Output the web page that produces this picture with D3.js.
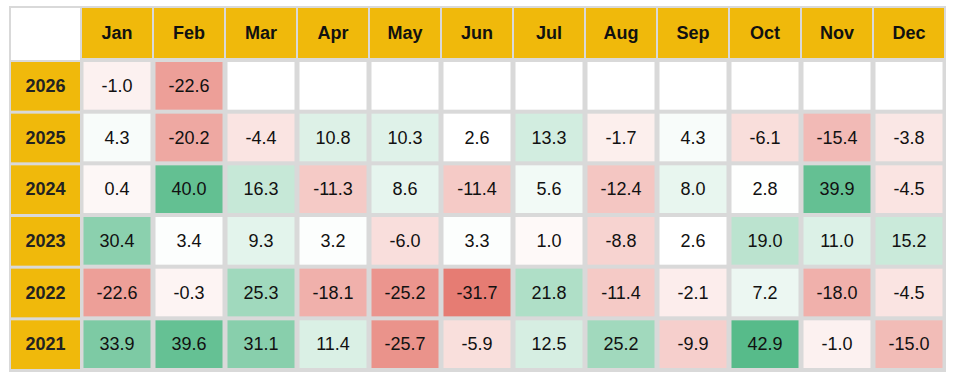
<!DOCTYPE html>
<html>
<head>
<meta charset="utf-8">
<script src="https://cdn.jsdelivr.net/npm/d3@7"></script>
<style>
  body { margin: 0; background: #fff; }
  text { font-family: "Liberation Sans", Arial, sans-serif; }
</style>
</head>
<body>
<div id="chart"></div>
<script>
// data
var months = ["Jan", "Feb", "Mar", "Apr", "May", "Jun", "Jul", "Aug", "Sep", "Oct", "Nov", "Dec"];
var years = ["2026", "2025", "2024", "2023", "2022", "2021"];
var returns2026 = [-1.0, -22.6];
var returns2025 = [4.3, -20.2, -4.4, 10.8, 10.3, 2.6, 13.3, -1.7, 4.3, -6.1, -15.4, -3.8];
var returns2024 = [0.4, 40.0, 16.3, -11.3, 8.6, -11.4, 5.6, -12.4, 8.0, 2.8, 39.9, -4.5];
var returns2023 = [30.4, 3.4, 9.3, 3.2, -6.0, 3.3, 1.0, -8.8, 2.6, 19.0, 11.0, 15.2];
var returns2022 = [-22.6, -0.3, 25.3, -18.1, -25.2, -31.7, 21.8, -11.4, -2.1, 7.2, -18.0, -4.5];
var returns2021 = [33.9, 39.6, 31.1, 11.4, -25.7, -5.9, 12.5, 25.2, -9.9, 42.9, -1.0, -15.0];

var rowsData = [returns2026, returns2025, returns2024, returns2023, returns2022, returns2021];

var width = 954, height = 378;
var yellow = "#f0b90b", grid = "#d9d9d9";

var svg = d3.select("#chart")
  .append("svg")
  .attr("width", width)
  .attr("height", height);

// flat cell list
var cells = [];
rowsData.forEach(function (vals, r) {
  months.forEach(function (m, c) {
    cells.push({ year: years[r], month: m, value: c < vals.length ? vals[c] : null });
  });
});
var allVals = cells.filter(function (d) { return d.value !== null; }).map(function (d) { return d.value; });

var color = d3.scaleLinear()
  .domain([d3.min(allVals), d3.median(allVals), d3.max(allVals)])
  .range(["#e67c73", "#ffffff", "#57bb8a"]);

var x = d3.scaleBand().domain(months).range([81, 945]);
var y = d3.scaleBand().domain(years).range([60, 370]);

// table background / borders
svg.append("rect")
  .attr("x", 9).attr("y", 6)
  .attr("width", 937).attr("height", 366)
  .attr("fill", grid);

// corner cell
svg.append("rect")
  .attr("x", 11).attr("y", 8)
  .attr("width", 69).attr("height", 52)
  .attr("fill", "#fff");

// month header
var head = svg.append("g");
head.selectAll("rect")
  .data(months)
  .enter()
  .append("rect")
  .attr("x", function (d) { return x(d) + 1; })
  .attr("y", 8)
  .attr("width", x.bandwidth() - 2)
  .attr("height", 50)
  .attr("fill", yellow);
head.selectAll("text")
  .data(months)
  .enter()
  .append("text")
  .attr("x", function (d) { return x(d) + x.bandwidth() / 2; })
  .attr("y", 33)
  .attr("dy", "0.35em")
  .attr("text-anchor", "middle")
  .attr("font-weight", "bold")
  .style("font-size", "18px")
  .attr("fill", "#111")
  .text(function (d) { return d; });

// year column
var side = svg.append("g");
side.selectAll("rect")
  .data(years)
  .enter()
  .append("rect")
  .attr("x", 11)
  .attr("y", function (d) { return y(d) + 2; })
  .attr("width", 69)
  .attr("height", y.bandwidth() - 3)
  .attr("fill", yellow);
side.selectAll("text")
  .data(years)
  .enter()
  .append("text")
  .attr("x", 45.5)
  .attr("y", function (d) { return y(d) + y.bandwidth() / 2; })
  .attr("dy", "0.35em")
  .attr("text-anchor", "middle")
  .attr("font-weight", "bold")
  .style("font-size", "18px")
  .attr("fill", "#222")
  .text(function (d) { return d; });

// body cells
var body = svg.append("g");
body.selectAll("rect")
  .data(cells)
  .enter()
  .append("rect")
  .attr("x", function (d) { return x(d.month) + 2.5; })
  .attr("y", function (d) { return y(d.year) + 2; })
  .attr("width", x.bandwidth() - 5)
  .attr("height", y.bandwidth() - 4)
  .attr("fill", function (d) { return d.value === null ? "#fff" : color(d.value); });
body.selectAll("text")
  .data(cells.filter(function (d) { return d.value !== null; }))
  .enter()
  .append("text")
  .attr("x", function (d) { return x(d.month) + x.bandwidth() / 2; })
  .attr("y", function (d) { return y(d.year) + y.bandwidth() / 2; })
  .attr("dy", "0.35em")
  .attr("text-anchor", "middle")
  .style("font-size", "18px")
  .attr("fill", "#111")
  .text(function (d) { return d.value.toFixed(1); });
</script>
</body>
</html>
